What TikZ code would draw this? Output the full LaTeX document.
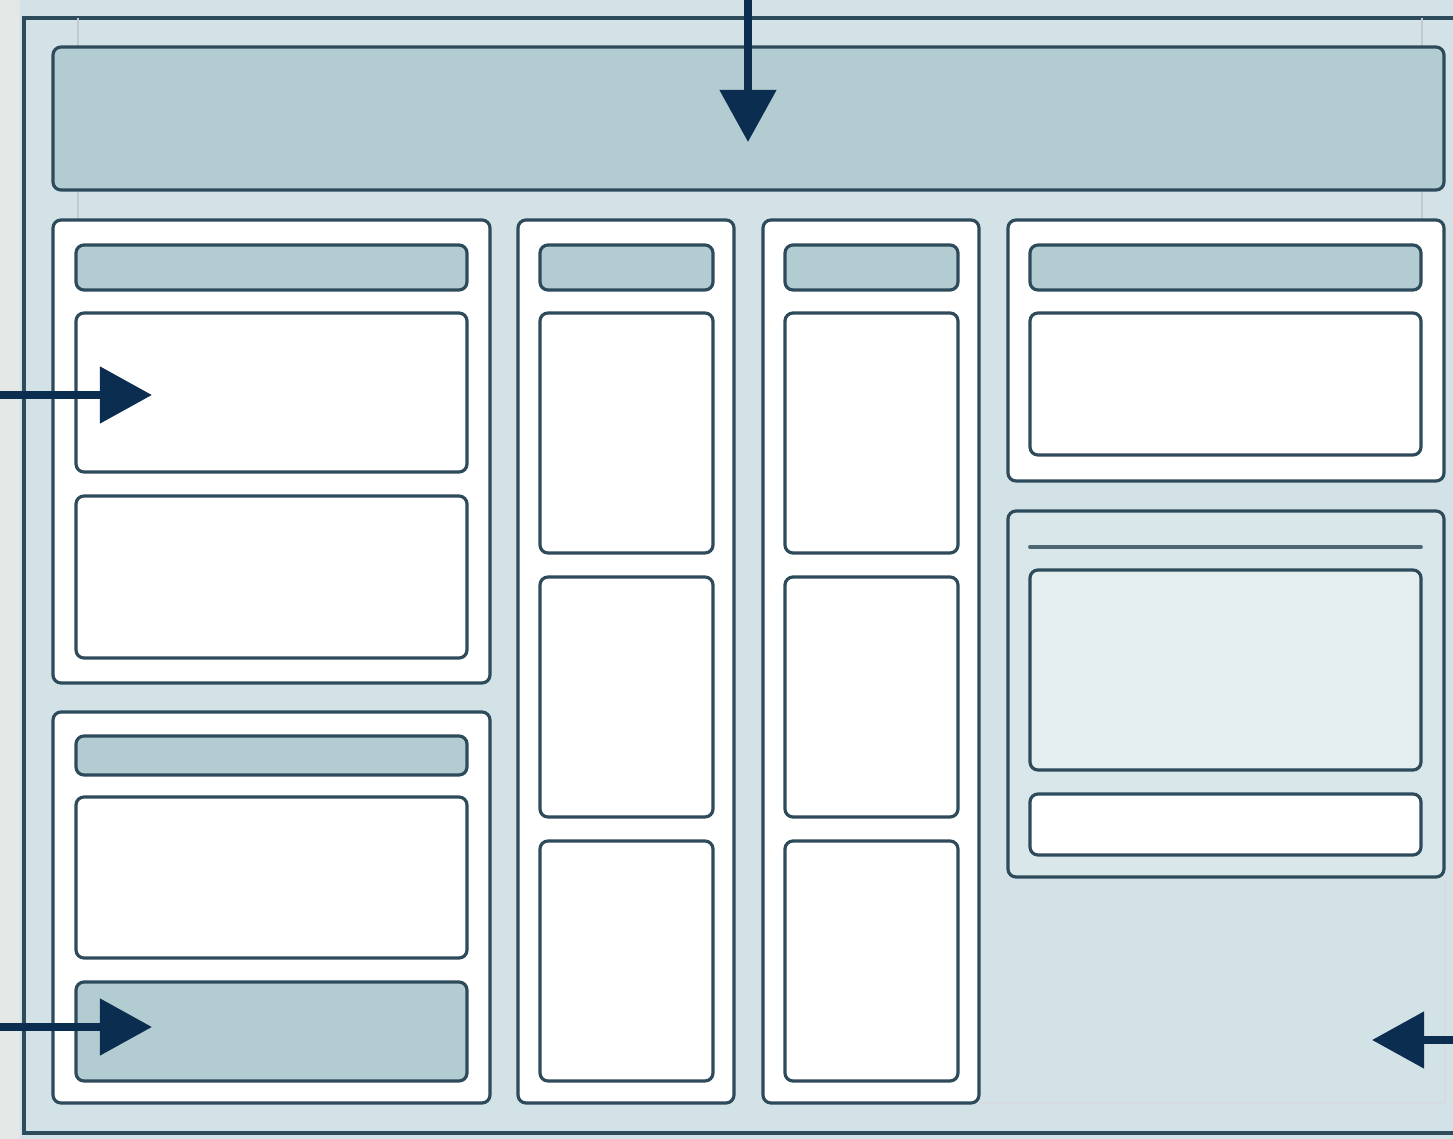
\documentclass[tikz,border=0pt]{standalone}
\usetikzlibrary{arrows.meta,fit}
\definecolor{bgblue}{HTML}{D3E2E6}
\definecolor{stripgray}{HTML}{E3E8E6}
\definecolor{barblue}{HTML}{B3CCD2}
\definecolor{edgeblue}{HTML}{2E4B5C}
\definecolor{arrowblue}{HTML}{0B2E50}
\definecolor{paleblue}{HTML}{D9E6EA}
\definecolor{mistblue}{HTML}{E4EEEF}
\begin{document}
\begin{tikzpicture}[x=0.01cm,y=-0.01cm]
	\tikzset{
		panel/.style={draw=edgeblue,line width=0.9pt,fill=white,rounded corners=0.08cm,inner sep=0pt},
		bar/.style={panel,fill=barblue},
		arr/.style={-{Triangle[length=0.52cm,width=0.55cm]},line width=0.08cm,arrowblue}
	}
	% fondo y marco
	\useasboundingbox (0,0) rectangle (1453,1139);
	\fill[bgblue] (0,0) rectangle (1453,1139);
	\fill[stripgray] (0,0) rectangle (20,1139);
	\draw[edgeblue,line width=1.1pt] (24,18) rectangle (1480,1133);
	\draw[edgeblue!30,line width=0.4pt] (78,18) -- (78,220) (1422,18) -- (1422,220);
	\draw[edgeblue!20,line width=0.4pt] (979,1103) -- (1445,1103) -- (1445,880);
	
	% cabecera
	\node (hdr) [bar,fit={(53,47) (1444,190)}] {};
	
	% panel izquierdo superior
	\node (lt) [panel,fit={(53,220) (490,683)}] {};
	\node (lt0) [bar,fit={(76,245) (467,290)}] {};
	\node (lt1) [panel,fit={(76,313) (467,472)}] {};
	\node (lt2) [panel,fit={(76,496) (467,658)}] {};
	
	% panel izquierdo inferior
	\node (lb) [panel,fit={(53,712) (490,1103)}] {};
	\node (lb0) [bar,fit={(76,736) (467,775)}] {};
	\node (lb1) [panel,fit={(76,797) (467,958)}] {};
	\node (lb2) [bar,fit={(76,982) (467,1081)}] {};
	
	% columnas centrales
	\node (c1) [panel,fit={(518,220) (734,1103)}] {};
	\node (c10) [bar,fit={(540,245) (713,290)}] {};
	\node (c11) [panel,fit={(540,313) (713,553)}] {};
	\node (c12) [panel,fit={(540,577) (713,817)}] {};
	\node (c13) [panel,fit={(540,841) (713,1081)}] {};
	\node (c2) [panel,fit={(763,220) (979,1103)}] {};
	\node (c20) [bar,fit={(785,245) (958,290)}] {};
	\node (c21) [panel,fit={(785,313) (958,553)}] {};
	\node (c22) [panel,fit={(785,577) (958,817)}] {};
	\node (c23) [panel,fit={(785,841) (958,1081)}] {};
	
	% panel derecho superior
	\node (rt) [panel,fit={(1008,220) (1444,481)}] {};
	\node (rt0) [bar,fit={(1030,245) (1421,290)}] {};
	\node (rt1) [panel,fit={(1030,313) (1421,455)}] {};
	
	% panel derecho inferior
	\node (rb) [panel,fill=paleblue,fit={(1008,511) (1444,877)}] {};
	\draw[edgeblue!85,line width=1.1pt,line cap=round] (1030,547) -- (1421,547);
	\node (rb1) [panel,fill=mistblue,fit={(1030,570) (1421,770)}] {};
	\node (rb2) [panel,fit={(1030,794) (1421,855)}] {};
	
	%Flechas
	\coordinate (top_in) at (748,0);
	\coordinate (top_tip) at (748,142);
	\coordinate (l1_in) at (0,395);
	\coordinate (l1_tip) at (152,395);
	\coordinate (l2_in) at (0,1027);
	\coordinate (l2_tip) at (152,1027);
	\coordinate (r_in) at (1453,1040);
	\coordinate (r_tip) at (1372,1040);
	\draw[arr] (top_in) -- (top_tip);
	\draw[arr] (l1_in) -- (l1_tip);
	\draw[arr] (l2_in) -- (l2_tip);
	\draw[arr] (r_in) -- (r_tip);
\end{tikzpicture}
\end{document}
